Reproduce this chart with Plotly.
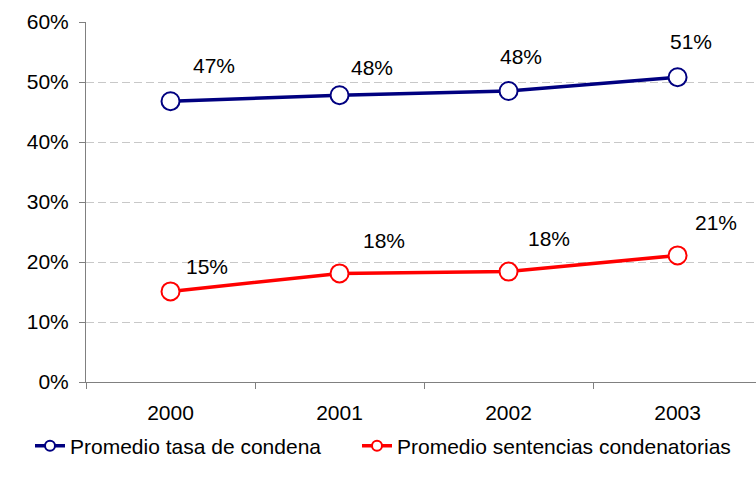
import plotly.graph_objects as go

years = ["2000", "2001", "2002", "2003"]
tasa_condena = [0.468, 0.478, 0.485, 0.508]
sentencias = [0.151, 0.181, 0.184, 0.211]
tasa_labels = ["47%", "48%", "48%", "51%"]
sent_labels = ["15%", "18%", "18%", "21%"]
names = ["Promedio tasa de condena", "Promedio sentencias condenatorias"]
colors = ["#000080", "#FF0000"]

# label offsets in px (styling)
tasa_off = [(43, 36), (32, 28), (12, 35), (13, 36)]
sent_off = [(36, 25), (44, 33), (40, 33), (38, 33)]

FONT = "Liberation Sans, Arial, sans-serif"
FS = 21

fig = go.Figure()
for ys, name, col in [(tasa_condena, names[0], colors[0]), (sentencias, names[1], colors[1])]:
    fig.add_trace(go.Scatter(
        x=years, y=ys, mode="lines+markers", name=name, showlegend=False,
        line=dict(color=col, width=3.5),
        marker=dict(symbol="circle", size=18, color="white", line=dict(color=col, width=2)),
    ))
# legend-only entries with smaller markers, each in its own legend box
for name, col, lg in zip(names, colors, ["legend", "legend2"]):
    fig.add_trace(go.Scatter(
        x=[None], y=[None], mode="lines+markers", name=name, showlegend=True, legend=lg,
        line=dict(color=col, width=3.5),
        marker=dict(symbol="circle", size=10, color="white", line=dict(color=col, width=2)),
    ))

annotations = []
for ys, labs, offs in [(tasa_condena, tasa_labels, tasa_off), (sentencias, sent_labels, sent_off)]:
    for i, (y, t, (dx, dy)) in enumerate(zip(ys, labs, offs)):
        annotations.append(dict(x=i, y=y, xref="x", yref="y", text=t, showarrow=False,
                                xshift=dx, yshift=dy, font=dict(family=FONT, size=FS, color="black")))

legend_common = dict(orientation="h", xanchor="left", xref="container",
                     y=1 - 446 / 483, yanchor="middle", yref="container",
                     font=dict(family=FONT, size=FS), itemwidth=30)

fig.update_layout(
    width=756, height=483,
    margin=dict(l=86, r=0, t=22, b=101, autoexpand=False),
    paper_bgcolor="white", plot_bgcolor="white",
    font=dict(family=FONT, size=FS, color="black"),
    showlegend=True,
    legend=dict(x=30 / 756, **legend_common),
    legend2=dict(x=357 / 756, **legend_common),
    annotations=annotations,
)
fig.update_xaxes(
    type="category", range=[-0.5, 3.464],
    showline=True, linecolor="#808080", linewidth=1,
    ticks="outside", ticklen=6, tickcolor="#808080", tickson="boundaries",
    showgrid=False, zeroline=False,
    tickfont=dict(family=FONT, size=FS),
    ticklabelstandoff=12,
)
fig.update_yaxes(
    range=[0, 0.6], dtick=0.1, tickformat=".0%",
    showline=True, linecolor="#808080", linewidth=1,
    ticks="outside", ticklen=6, tickcolor="#808080",
    showgrid=True, gridcolor="#c8c8c8", griddash="8px,4px", gridwidth=1,
    zeroline=False,
    tickfont=dict(family=FONT, size=FS),
    ticklabelstandoff=6,
)
fig.write_html("out.html", config={"displayModeBar": False},
               post_script="document.body.style.margin='0';")
